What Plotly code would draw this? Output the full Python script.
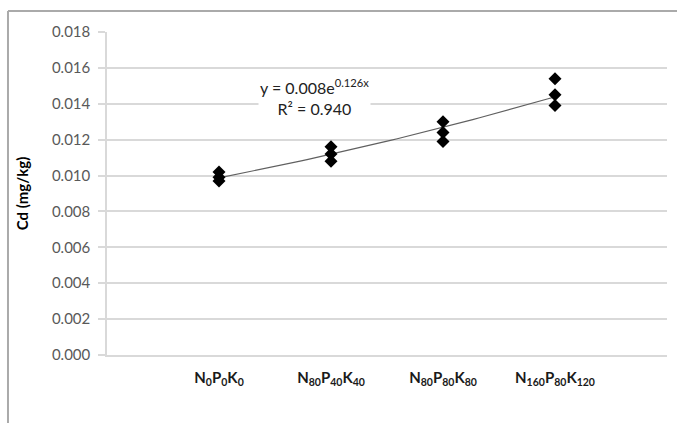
import numpy as np
import plotly.graph_objects as go

# Data
x_pos = [1, 1, 1, 2, 2, 2, 3, 3, 3, 4, 4, 4]
cd_values = [0.0102, 0.0099, 0.0097,
             0.0116, 0.0112, 0.0108,
             0.0130, 0.0124, 0.0119,
             0.0154, 0.0145, 0.0139]
tick_positions = [1, 2, 3, 4]
tick_labels = ["<b>N<sub>0</sub>P<sub>0</sub>K<sub>0</sub></b>",
               "<b>N<sub>80</sub>P<sub>40</sub>K<sub>40</sub></b>",
               "<b>N<sub>80</sub>P<sub>80</sub>K<sub>80</sub></b>",
               "<b>N<sub>160</sub>P<sub>80</sub>K<sub>120</sub></b>"]
y_ticks = [0.000, 0.002, 0.004, 0.006, 0.008, 0.010, 0.012, 0.014, 0.016, 0.018]

# exponential trend fitted to the data
b, ln_a = np.polyfit(np.array(x_pos, float), np.log(np.array(cd_values)), 1)
trend_x = np.linspace(1, 4, 50)
trend_y = np.exp(ln_a) * np.exp(b * trend_x)

fig = go.Figure()
fig.add_trace(go.Scatter(x=trend_x, y=trend_y, mode="lines",
                         line=dict(color="#606060", width=1.2),
                         hoverinfo="skip", showlegend=False))
fig.add_trace(go.Scatter(x=x_pos, y=cd_values, mode="markers",
                         marker=dict(symbol="diamond", size=10, color="black"),
                         showlegend=False))

grid = "#d9d9d9"
fig.update_xaxes(range=[0, 5], tickvals=tick_positions, ticktext=tick_labels,
                 showgrid=False, zeroline=False, showline=True, linecolor=grid,
                 linewidth=2, ticks="", tickfont=dict(family="Lato", size=15, color="#1a1a1a"),
                 ticklabelstandoff=8)
fig.update_yaxes(range=[0, 0.018], tickvals=y_ticks, tickformat=".3f",
                 showgrid=True, gridcolor=grid, gridwidth=2, zeroline=False,
                 showline=True, linecolor=grid, linewidth=1.5,
                 ticks="outside", ticklen=7, tickcolor=grid, tickwidth=2,
                 ticklabelstandoff=5,
                 tickfont=dict(family="Lato", size=15, color="#595959"),
                 title=dict(text="<b>Cd (mg/kg)</b>", font=dict(family="Lato", size=15, color="black"),
                            standoff=20))

fig.add_annotation(x=0.37, y=1.0, xref="paper", yref="paper", xanchor="center", yanchor="top",
                   yshift=-42,
                   text="y = 0.008e<sup>0.126x</sup><br>R² = 0.940", showarrow=False,
                   bgcolor="white", font=dict(family="Lato", size=16, color="#222222"),
                   align="center")

# outer chart frame (top and left edges visible)
fig.add_shape(type="line", xref="paper", yref="paper", x0=-0.1768, x1=1.05, y0=1.065, y1=1.065,
              line=dict(color="#aaaaaa", width=2))
fig.add_shape(type="line", xref="paper", yref="paper", x0=-0.1768, x1=-0.1768, y0=1.065, y1=-0.25,
              line=dict(color="#aaaaaa", width=2))

fig.update_layout(width=677, height=423, margin=dict(l=107, r=10, t=32, b=68),
                  plot_bgcolor="white", paper_bgcolor="white")

fig.write_html("out.html")
